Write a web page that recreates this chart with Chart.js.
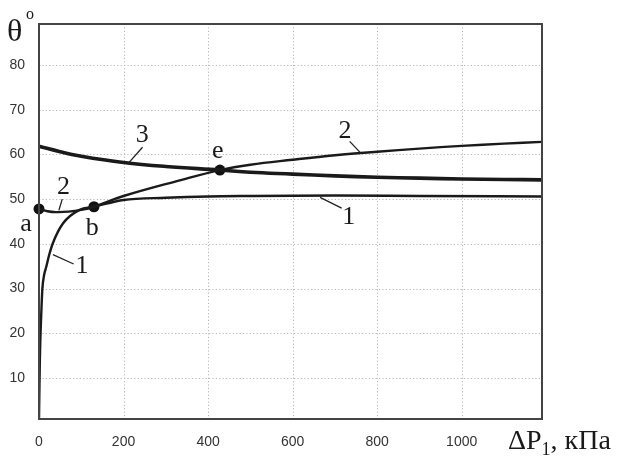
<!DOCTYPE html>
<html>
<head>
<meta charset="utf-8">
<script src="https://cdn.jsdelivr.net/npm/chart.js@4"></script>
<style>
  html, body { margin: 0; padding: 0; background: #fff; }
  #wrap { width: 627px; height: 457px; }
</style>
</head>
<body>
<div id="wrap"><canvas id="chart" width="627" height="457"></canvas></div>
<script>
// curve 1
var x1 = [0, 1, 2, 3, 4, 6, 8, 12, 17.5, 24, 33, 57, 96, 130, 200, 300, 400, 500, 700, 900, 1190];
var y1 = [1, 8, 14, 18, 21, 26, 30, 33, 35, 37.5, 40.2, 44.6, 47.6, 48.3, 49.8, 50.3, 50.6, 50.7, 50.8, 50.7, 50.6];
// curve 2
var x2 = [0, 20, 40, 70, 100, 130, 200, 333, 428, 500, 600, 700, 800, 900, 1000, 1100, 1190];
var y2 = [47.8, 47.3, 47.1, 47.2, 47.6, 48.3, 50.7, 54.2, 56.5, 57.7, 58.8, 59.8, 60.6, 61.3, 61.9, 62.4, 62.8];
// curve 3
var x3 = [0, 50, 100, 200, 300, 428, 500, 600, 700, 800, 900, 1000, 1100, 1190];
var y3 = [61.8, 60.6, 59.6, 58.2, 57.3, 56.5, 56.0, 55.6, 55.2, 54.9, 54.7, 54.5, 54.4, 54.3];
// marked points a, b, e
var ptX = [0, 130, 428];
var ptY = [47.8, 48.3, 56.5];

var xTicks = [0, 200, 400, 600, 800, 1000];
var yTicks = [10, 20, 30, 40, 50, 60, 70, 80];

// text labels: [text, x, y]
var labels = [
  ["3", 244, 64.4],
  ["e", 423, 60.8],
  ["2", 724, 65.2],
  ["1", 733, 46.0],
  ["2", 58, 52.7],
  ["a", -31, 44.5],
  ["b", 126, 43.6],
  ["1", 102, 35.1]
];
// leader lines: [x0, y0, x1, y1]
var leaders = [
  [245, 61.6, 211, 58.0],
  [735, 62.9, 759, 60.5],
  [716, 48.0, 665, 50.4],
  [55, 50.0, 47, 47.5],
  [33, 37.6, 82, 35.5]
];

function toPoints(xs, ys) {
  return xs.map(function (x, i) { return { x: x, y: ys[i] }; });
}

var serif = '"Liberation Serif", "DejaVu Serif", serif';

// dotted grid under the curves
var dottedGrid = {
  id: "dottedGrid",
  beforeDatasetsDraw: function (chart) {
    var ctx = chart.ctx;
    var xs = chart.scales.x, ys = chart.scales.y;
    var a = chart.chartArea;
    ctx.save();
    ctx.strokeStyle = "#b8b8b8";
    ctx.lineWidth = 1;
    ctx.setLineDash([1.2, 2.2]);
    xTicks.forEach(function (v) {
      if (v === 0) return;
      var p = Math.round(xs.getPixelForValue(v)) + 0.5;
      ctx.beginPath();
      ctx.moveTo(p, a.top);
      ctx.lineTo(p, a.bottom);
      ctx.stroke();
    });
    yTicks.forEach(function (v) {
      var p = Math.round(ys.getPixelForValue(v)) + 0.5;
      ctx.beginPath();
      ctx.moveTo(a.left, p);
      ctx.lineTo(a.right, p);
      ctx.stroke();
    });
    ctx.restore();
  }
};

var annotate = {
  id: "annotate",
  afterDraw: function (chart) {
    var ctx = chart.ctx;
    var xs = chart.scales.x, ys = chart.scales.y;
    var a = chart.chartArea;
    ctx.save();
    ctx.strokeStyle = "#444";
    ctx.lineWidth = 2;
    ctx.strokeRect(a.left, a.top, a.right - a.left, a.bottom - a.top);

    ctx.strokeStyle = "#222";
    ctx.lineWidth = 1.3;
    leaders.forEach(function (l) {
      ctx.beginPath();
      ctx.moveTo(xs.getPixelForValue(l[0]), ys.getPixelForValue(l[1]));
      ctx.lineTo(xs.getPixelForValue(l[2]), ys.getPixelForValue(l[3]));
      ctx.stroke();
    });

    ctx.fillStyle = "#1a1a1a";
    ctx.textAlign = "center";
    ctx.textBaseline = "middle";
    ctx.font = "26px " + serif;
    labels.forEach(function (t) {
      ctx.fillText(t[0], xs.getPixelForValue(t[1]), ys.getPixelForValue(t[2]));
    });

    // y title
    ctx.textAlign = "left";
    ctx.textBaseline = "alphabetic";
    ctx.font = "32px " + serif;
    ctx.fillText("θ", 7, 41);
    ctx.font = "16px " + serif;
    ctx.fillText("o", 26, 19);

    // x title
    ctx.font = "28px " + serif;
    var px = 508, py = 449;
    ctx.fillText("ΔP", px, py);
    px += ctx.measureText("ΔP").width;
    ctx.font = "18px " + serif;
    ctx.fillText("1", px, py + 6);
    px += ctx.measureText("1").width;
    ctx.font = "28px " + serif;
    ctx.fillText(", кПа", px, py);
    ctx.restore();
  }
};

var ctx = document.getElementById("chart").getContext("2d");
new Chart(ctx, {
  type: "line",
  data: {
    datasets: [
      { data: toPoints(x1, y1), borderColor: "#1a1a1a", borderWidth: 2.4, pointRadius: 0, cubicInterpolationMode: "monotone" },
      { data: toPoints(x2, y2), borderColor: "#1a1a1a", borderWidth: 2.4, pointRadius: 0, tension: 0.4 },
      { data: toPoints(x3, y3), borderColor: "#1a1a1a", borderWidth: 3.6, pointRadius: 0, tension: 0.4 },
      { data: toPoints(ptX, ptY), showLine: false, pointRadius: 5.5, pointBackgroundColor: "#111", pointBorderWidth: 0, clip: false }
    ]
  },
  options: {
    responsive: false,
    animation: false,
    plugins: { legend: { display: false }, tooltip: { enabled: false } },
    layout: { padding: { left: 0, right: 85, top: 24, bottom: 0 } },
    scales: {
      x: {
        type: "linear",
        min: 0,
        max: 1190,
        afterBuildTicks: function (axis) { axis.ticks = xTicks.map(function (v) { return { value: v }; }); },
        afterFit: function (axis) { axis.height = 38; },
        grid: { display: false },
        border: { display: false },
        ticks: {
          color: "#333", padding: 7, maxRotation: 0,
          font: { family: "Liberation Sans, Arial", size: 14 },
          callback: function (v) { return String(v); }
        }
      },
      y: {
        min: 0.85,
        max: 89.15,
        afterBuildTicks: function (axis) { axis.ticks = yTicks.map(function (v) { return { value: v }; }); },
        afterFit: function (axis) { axis.width = 39; },
        grid: { display: false },
        border: { display: false },
        ticks: { color: "#333", padding: 6, font: { family: "Liberation Sans, Arial", size: 14 } }
      }
    }
  },
  plugins: [dottedGrid, annotate]
});
</script>
</body>
</html>
